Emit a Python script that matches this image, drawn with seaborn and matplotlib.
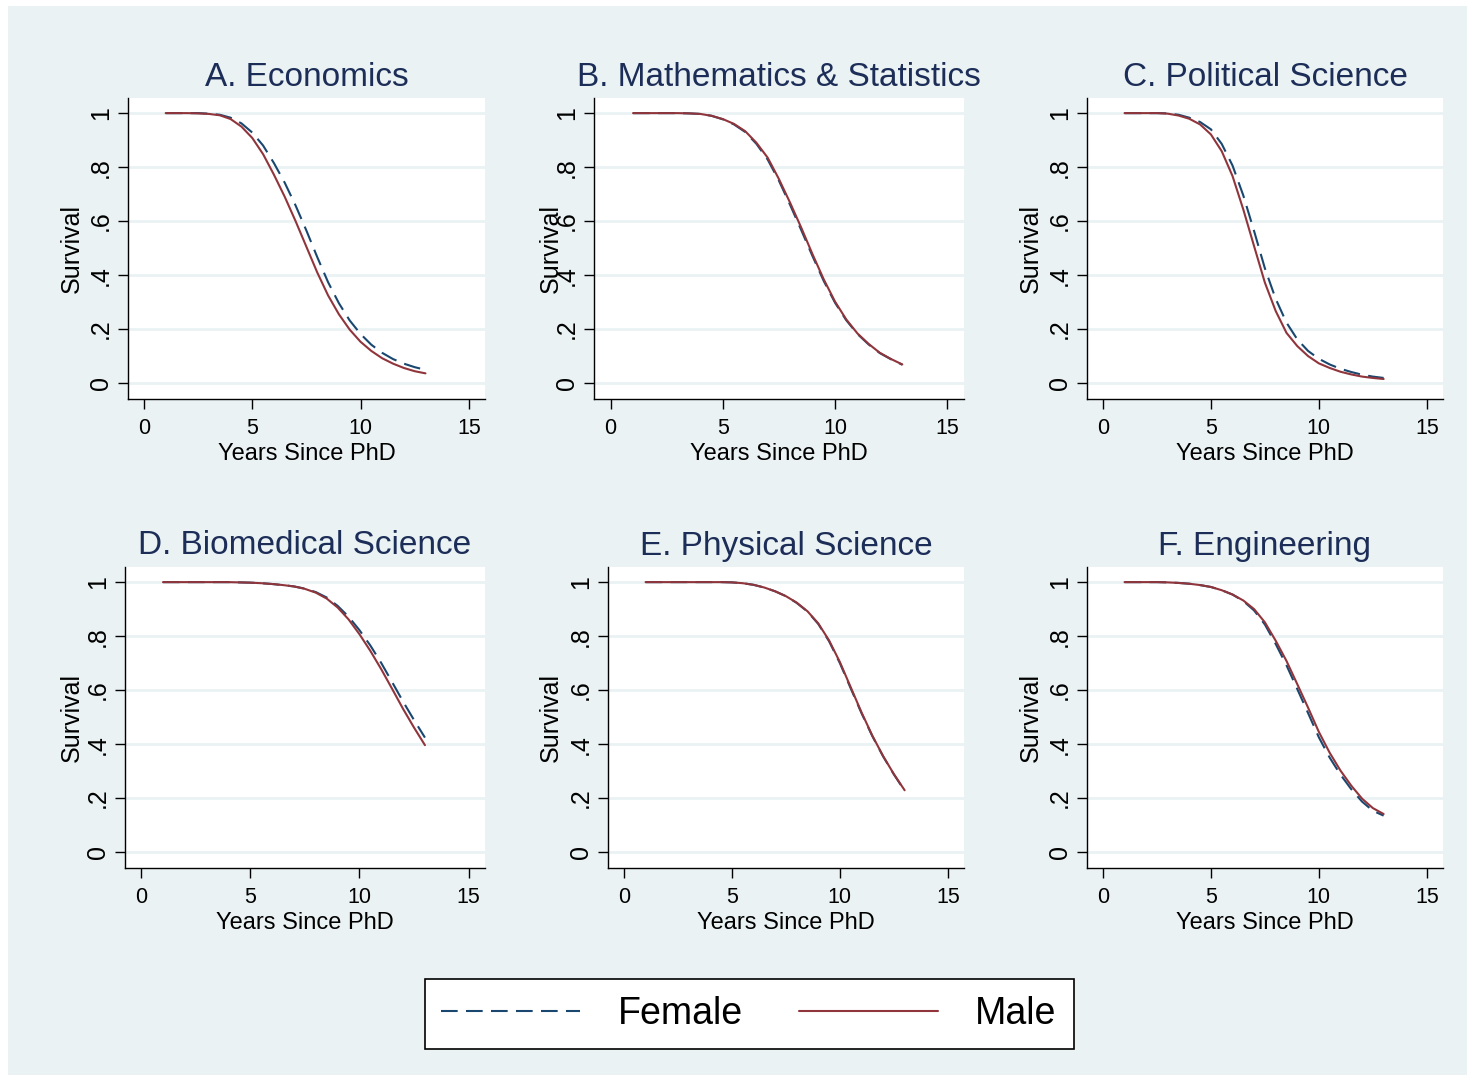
import pandas as pd
import matplotlib
matplotlib.use("Agg")
import matplotlib.pyplot as plt
from matplotlib.lines import Line2D
from matplotlib.patches import Rectangle
import seaborn as sns

sns.set_theme(style="white")
plt.rcParams["font.family"] = ["Liberation Sans", "DejaVu Sans"]
plt.rcParams["text.color"] = "black"

BG = "#EAF2F3"
FEMALE_COLOR = "#1A476F"
MALE_COLOR = "#90353B"
TITLE_COLOR = "#1C2D58"

YEARS = [1, 1.5, 2, 2.5, 3, 3.5, 4, 4.5, 5, 5.5, 6, 6.5, 7,
         7.5, 8, 8.5, 9, 9.5, 10, 10.5, 11, 11.5, 12, 12.5, 13]

TITLES = ["A. Economics", "B. Mathematics & Statistics", "C. Political Science",
          "D. Biomedical Science", "E. Physical Science", "F. Engineering"]

econ_female = [1.0, 1.0, 1.0, 1.0, 0.998, 0.994, 0.983, 0.962, 0.928, 0.880, 0.815, 0.742, 0.658,
               0.565, 0.467, 0.374, 0.296, 0.232, 0.182, 0.142, 0.112, 0.089, 0.072, 0.059, 0.049]
econ_male = [1.0, 1.0, 1.0, 0.999, 0.997, 0.992, 0.978, 0.950, 0.908, 0.848, 0.772, 0.690, 0.600,
             0.505, 0.410, 0.325, 0.255, 0.198, 0.153, 0.119, 0.092, 0.072, 0.056, 0.044, 0.036]

math_female = [1.0, 1.0, 1.0, 1.0, 1.0, 0.999, 0.997, 0.990, 0.977, 0.958, 0.930, 0.886, 0.828,
               0.750, 0.660, 0.566, 0.470, 0.378, 0.298, 0.233, 0.182, 0.143, 0.111, 0.088, 0.068]
math_male = [1.0, 1.0, 1.0, 1.0, 1.0, 0.999, 0.997, 0.990, 0.978, 0.960, 0.933, 0.890, 0.835,
             0.756, 0.668, 0.575, 0.477, 0.384, 0.302, 0.236, 0.184, 0.145, 0.112, 0.089, 0.069]

polsci_female = [1.0, 1.0, 1.0, 1.0, 0.999, 0.994, 0.983, 0.967, 0.940, 0.886, 0.806, 0.695, 0.563,
                 0.425, 0.312, 0.224, 0.162, 0.119, 0.090, 0.069, 0.053, 0.041, 0.031, 0.024, 0.019]
polsci_male = [1.0, 1.0, 1.0, 1.0, 0.998, 0.991, 0.979, 0.958, 0.921, 0.859, 0.767, 0.643, 0.507,
               0.372, 0.267, 0.186, 0.137, 0.100, 0.073, 0.056, 0.042, 0.032, 0.024, 0.019, 0.015]

biomed_female = [1.0, 1.0, 1.0, 1.0, 1.0, 1.0, 1.0, 0.999, 0.998, 0.996, 0.993, 0.989, 0.984,
                 0.976, 0.963, 0.943, 0.912, 0.872, 0.822, 0.765, 0.700, 0.629, 0.557, 0.489, 0.424]
biomed_male = [1.0, 1.0, 1.0, 1.0, 1.0, 1.0, 1.0, 0.999, 0.998, 0.996, 0.993, 0.989, 0.984,
               0.975, 0.961, 0.939, 0.906, 0.862, 0.807, 0.745, 0.677, 0.604, 0.530, 0.461, 0.396]

phys_female = [1.0, 1.0, 1.0, 1.0, 1.0, 1.0, 1.0, 1.0, 0.999, 0.996, 0.990, 0.980, 0.966,
               0.948, 0.923, 0.891, 0.845, 0.781, 0.700, 0.607, 0.515, 0.430, 0.355, 0.288, 0.227]
phys_male = [1.0, 1.0, 1.0, 1.0, 1.0, 1.0, 1.0, 1.0, 0.999, 0.996, 0.990, 0.980, 0.966,
             0.948, 0.924, 0.892, 0.847, 0.784, 0.704, 0.611, 0.518, 0.432, 0.356, 0.289, 0.229]

eng_female = [1.0, 1.0, 1.0, 1.0, 0.999, 0.997, 0.994, 0.989, 0.982, 0.970, 0.954, 0.930, 0.895,
              0.843, 0.771, 0.692, 0.604, 0.515, 0.425, 0.350, 0.287, 0.233, 0.187, 0.153, 0.135]
eng_male = [1.0, 1.0, 1.0, 1.0, 0.999, 0.997, 0.994, 0.989, 0.982, 0.970, 0.954, 0.932, 0.900,
            0.851, 0.783, 0.708, 0.622, 0.535, 0.445, 0.368, 0.302, 0.246, 0.198, 0.163, 0.141]

FEMALE = [econ_female, math_female, polsci_female, biomed_female, phys_female, eng_female]
MALE = [econ_male, math_male, polsci_male, biomed_male, phys_male, eng_male]

Y_TICKS = [0, 0.2, 0.4, 0.6, 0.8, 1]
Y_TICK_LABELS = ["0", ".2", ".4", ".6", ".8", "1"]
X_TICKS = [0, 5, 10, 15]

W, H = 1475, 1081
# axes boxes in pixels: left, top, right, bottom
BOXES = [(128, 98, 485, 399), (594, 98, 964, 399), (1087, 98, 1443, 399),
         (125, 567, 485, 868), (608, 567, 964, 868), (1087, 567, 1443, 868)]
# distance (px) from the axes' left edge to the right edge of the "Survival" label
YLABEL_OFFSET = [44, 31, 44, 41, 45, 44]

DASH = (0, (8, 4))

fig = plt.figure(figsize=(W / 100, H / 100), dpi=100, facecolor="white")
fig.patches.append(Rectangle((8 / W, 6 / H), (1467 - 8) / W, (1075 - 6) / H,
                             transform=fig.transFigure, facecolor=BG, edgecolor="none", zorder=-10))

for i, (l, t, r, b) in enumerate(BOXES):
    ax = fig.add_axes([l / W, 1 - b / H, (r - l) / W, (b - t) / H])
    ax.set_facecolor("white")
    df = pd.DataFrame({"year": YEARS, "female": FEMALE[i], "male": MALE[i]})
    sns.lineplot(data=df, x="year", y="female", ax=ax, color=FEMALE_COLOR, lw=1.5, linestyle=DASH)
    sns.lineplot(data=df, x="year", y="male", ax=ax, color=MALE_COLOR, lw=1.5)
    for yv in Y_TICKS:
        ax.axhline(yv, color=BG, lw=2, zorder=0)
    ax.set_xlim(-0.74, 15.75)
    ax.set_ylim(-0.059, 1.056)
    ax.set_xticks(X_TICKS)
    ax.set_xticklabels([str(v) for v in X_TICKS])
    ax.set_yticks(Y_TICKS)
    ax.set_yticklabels(Y_TICK_LABELS, rotation=90, va="center")
    ax.tick_params(axis="both", direction="out", length=7, width=1, color="black",
                   labelcolor="black", left=True, bottom=True)
    ax.tick_params(axis="y", pad=4, labelsize=18)
    ax.tick_params(axis="x", pad=6.5, labelsize=15.5)
    for side in ["top", "right"]:
        ax.spines[side].set_visible(False)
    for side in ["left", "bottom"]:
        ax.spines[side].set_color("black")
        ax.spines[side].set_linewidth(1)
    ax.set_xlabel("Years Since PhD", fontsize=17, color="black", labelpad=3)
    ax.set_ylabel("Survival", fontsize=18, color="black")
    ax.yaxis.set_label_coords(-YLABEL_OFFSET[i] / (r - l), 0.5)
    ax.set_title(TITLES[i], fontsize=24, color=TITLE_COLOR, pad=9)

handles = [Line2D([0], [0], color=FEMALE_COLOR, lw=1.5, linestyle=DASH),
           Line2D([0], [0], color=MALE_COLOR, lw=1.5)]
leg = fig.legend(handles, ["Female", "Male"], loc="center", bbox_to_anchor=(749 / W, 1 - 1014 / H),
                 ncol=2, fontsize=27, frameon=True, fancybox=False, handlelength=3.7,
                 handletextpad=1.0, columnspacing=1.5, borderpad=0.45)
leg.get_frame().set_edgecolor("black")
leg.get_frame().set_linewidth(1.2)
leg.get_frame().set_facecolor("white")
leg.get_frame().set_alpha(1)
for txt in leg.get_texts():
    txt.set_color("black")

fig.savefig("out.png", dpi=100, facecolor="white")
